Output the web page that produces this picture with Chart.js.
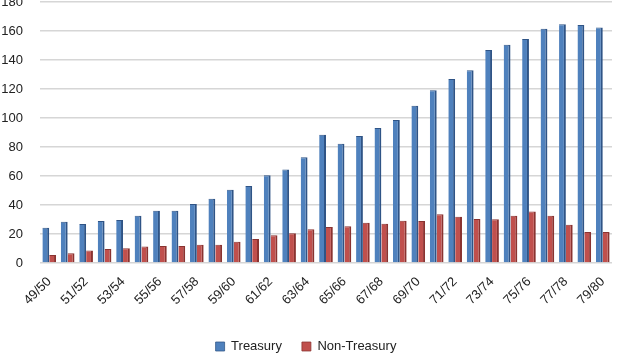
<!DOCTYPE html>
<html>
<head>
<meta charset="utf-8">
<script src="https://cdn.jsdelivr.net/npm/chart.js@4.4.0/dist/chart.umd.min.js"></script>
<style>
  html, body { margin: 0; padding: 0; background: #fff; }
  #wrap { width: 618px; height: 353px; position: relative; }
</style>
</head>
<body>
<div id="wrap"><canvas id="chart"></canvas></div>
<script>
// fiscal years, 1949/50 .. 1979/80
const years = ['49/50','50/51','51/52','52/53','53/54','54/55','55/56','56/57','57/58','58/59',
  '59/60','60/61','61/62','62/63','63/64','64/65','65/66','66/67','67/68','68/69',
  '69/70','70/71','71/72','72/73','73/74','74/75','75/76','76/77','77/78','78/79','79/80'];

const treasury = [24.3, 28.5, 26.9, 29, 29.7, 32.6, 36, 36, 40.7, 44.3,
  50.6, 53.1, 60.5, 64.4, 72.9, 88.5, 82.3, 87.6, 93.1, 98.6,
  108.5, 119.1, 126.9, 132.9, 146.9, 150.6, 154.5, 161.6, 164.6, 164.1, 162.5];

const nonTreasury = [5.5, 6.7, 8.7, 9.7, 10.1, 11.3, 11.7, 11.7, 12.6, 12.6,
  14.7, 16.6, 19.1, 20.5, 23.2, 24.8, 25.3, 27.8, 27.1, 29.2,
  29, 33.6, 31.9, 30.3, 30.1, 32.6, 35.6, 32.6, 26.4, 21.4, 21.4];

const yTicks = [0, 20, 40, 60, 80, 100, 120, 140, 160, 180];

Chart.defaults.font.family = '"Liberation Sans", Arial, sans-serif';
Chart.defaults.font.size = 13;
Chart.defaults.color = '#222';

const ctx = document.getElementById('chart').getContext('2d');
new Chart(ctx, {
    type: 'bar',
    data: {
        labels: years,
        datasets: [
            {
                label: 'Treasury',
                data: treasury,
                backgroundColor: '#4f81bd',
                borderColor: '#2f5486',
                borderWidth: { top: 1, right: 2, bottom: 0, left: 0 },
                borderSkipped: false,
                categoryPercentage: 0.74,
                barPercentage: 1,
            },
            {
                label: 'Non-Treasury',
                data: nonTreasury,
                backgroundColor: '#c0504d',
                borderColor: '#8a3330',
                borderWidth: { top: 1, right: 2, bottom: 0, left: 0 },
                borderSkipped: false,
                categoryPercentage: 0.74,
                barPercentage: 1,
            },
        ],
    },
    options: {
        responsive: true,
        maintainAspectRatio: false,
        animation: false,
        layout: { padding: { top: 2, right: 6, left: 0, bottom: -10 } },
        scales: {
            x: {
                grid: { display: false },
                border: { display: false },
                afterFit: (scale) => { scale.height = 57; scale.paddingLeft = 0; scale.paddingRight = 0; },
                ticks: {
                    autoSkip: false,
                    maxRotation: 45,
                    minRotation: 45,
                    padding: 3,
                    callback: (v, i) => (i % 2 === 0 ? years[i] : ''),
                },
            },
            y: {
                min: 0,
                max: 180,
                afterBuildTicks: (axis) => { axis.ticks = yTicks.map(v => ({ value: v })); },
                // labels end ~17px left of the plot
                afterFit: (scale) => { scale.width = 40; scale.paddingTop = 0; scale.paddingBottom = 0; },
                grid: { color: '#d6d6d6', lineWidth: 1.5, drawTicks: false },
                border: { display: false },
                ticks: { padding: 17 },
            },
        },
        plugins: {
            legend: {
                position: 'bottom',
                labels: { boxWidth: 9, boxHeight: 9, padding: 20, color: '#222' },
            },
            tooltip: { enabled: false },
        },
    },
});
</script>
</body>
</html>
